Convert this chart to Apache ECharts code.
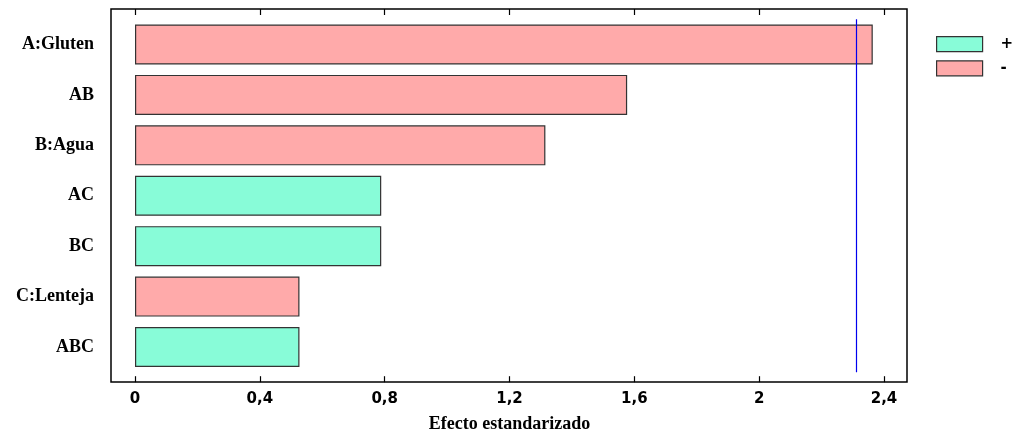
<!DOCTYPE html>
<html>
<head>
<meta charset="utf-8">
<script src="https://cdn.jsdelivr.net/npm/echarts@6/dist/echarts.min.js"></script>
<style>html,body{margin:0;padding:0;background:#fff}#c{width:1013px;height:442px}</style>
</head>
<body>
<div id="c"></div>
<script>
const categories = ['A:Gluten', 'AB', 'B:Agua', 'AC', 'BC', 'C:Lenteja', 'ABC'];
const effects = [2.364, 1.577, 1.315, 0.789, 0.789, 0.527, 0.527];
const signs = ['-', '-', '-', '+', '+', '-', '+'];
const threshold = 2.306;
const xTicks = [0, 0.4, 0.8, 1.2, 1.6, 2.0, 2.4];

const posData = effects.map((v, i) => signs[i] === '+' ? v : null);
const negData = effects.map((v, i) => signs[i] === '-' ? v : null);

const chart = echarts.init(document.getElementById('c'), null, {renderer: 'canvas'});
const serif = '"Liberation Serif", "Times New Roman", serif';
const sans = '"DejaVu Sans", Verdana, sans-serif';
const fmt = v => String(Math.round(v * 10) / 10).replace('.', ',');

chart.setOption({
  animation: false,
  backgroundColor: '#fff',
  legend: {
    left: 936, top: 36, orient: 'vertical', padding: 0,
    icon: 'rect',
    itemWidth: 46, itemHeight: 15, itemGap: 8,
    textStyle: {fontFamily: sans, fontWeight: 'bold', fontSize: 15, lineHeight: 15, color: '#000', padding: [0, 0, 0, 13]},
    data: [
      {name: '+', itemStyle: {color: '#88FCD8', borderColor: '#333', borderWidth: 1.2}},
      {name: '-', itemStyle: {color: '#FFAAAA', borderColor: '#333', borderWidth: 1.2}}
    ]
  },
  grid: [
    {left: 135, right: 129, top: 19.3, bottom: 69.8, containLabel: false},
    {left: 111, right: 106, top: 9, bottom: 60, show: true, borderColor: '#000', borderWidth: 1.5, backgroundColor: 'transparent', z: 0}
  ],
  xAxis: [
    {
      gridIndex: 0, type: 'value', min: 0, max: 2.4, interval: 0.4, position: 'bottom', offset: 10,
      axisLine: {show: false},
      axisTick: {show: true, inside: true, length: 6, lineStyle: {color: '#000', width: 1.2}},
      axisLabel: {fontFamily: sans, fontWeight: 'bold', fontSize: 15, color: '#000', margin: 9, formatter: fmt},
      splitLine: {show: false},
      name: 'Efecto estandarizado', nameLocation: 'middle', nameGap: 33,
      nameTextStyle: {fontFamily: serif, fontWeight: 'bold', fontSize: 18, color: '#000'}
    },
    {
      gridIndex: 0, type: 'value', min: 0, max: 2.4, interval: 0.4, position: 'top', offset: 10.3,
      axisLine: {show: false},
      axisTick: {show: true, inside: true, length: 6, lineStyle: {color: '#000', width: 1.2}},
      axisLabel: {show: false}, splitLine: {show: false}
    },
    {gridIndex: 1, type: 'value', min: 0, max: 1, show: false}
  ],
  yAxis: [
    {
      gridIndex: 0, type: 'category', data: categories, inverse: true,
      axisLine: {show: false}, axisTick: {show: false},
      axisLabel: {fontFamily: serif, fontWeight: 'bold', fontSize: 18, color: '#000', margin: 41}
    },
    {gridIndex: 1, type: 'value', min: 0, max: 1, show: false}
  ],
  series: [
    {
      name: '+', type: 'bar', xAxisIndex: 0, yAxisIndex: 0, stack: 'e', barWidth: 40,
      data: posData,
      itemStyle: {color: '#88FCD8', borderColor: '#333', borderWidth: 1.2}
    },
    {
      name: '-', type: 'bar', xAxisIndex: 0, yAxisIndex: 0, stack: 'e', barWidth: 40,
      data: negData,
      itemStyle: {color: '#FFAAAA', borderColor: '#333', borderWidth: 1.2},
      markLine: {
        silent: true, symbol: ['none', 'none'], label: {show: false},
        lineStyle: {color: '#0000EE', width: 1.2, type: 'solid'},
        data: [{xAxis: threshold}]
      }
    }
  ]
});
</script>
</body>
</html>
